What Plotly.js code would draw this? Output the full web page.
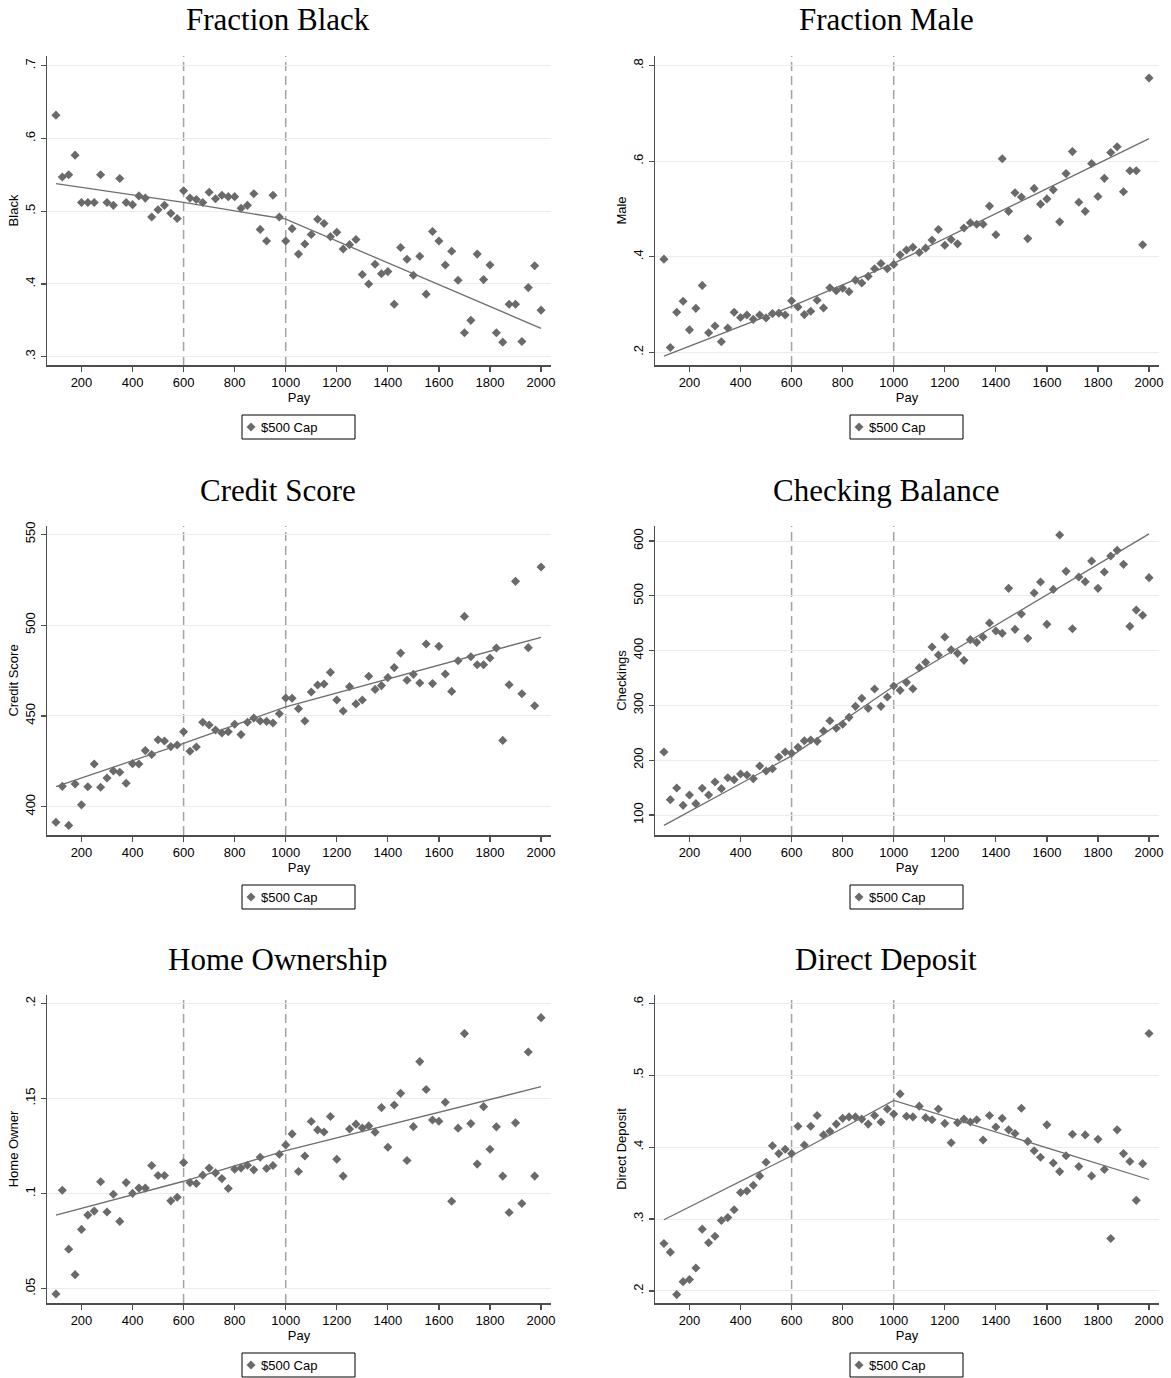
<!DOCTYPE html>
<html>
<head>
<meta charset="utf-8">
<script src="https://cdn.plot.ly/plotly-3.0.1.min.js"></script>
<style>
  html, body { margin: 0; padding: 0; background: #fff; width: 1171px; height: 1378px; overflow: hidden; }
  #chart { width: 1171px; height: 1378px; overflow: hidden; }
</style>
</head>
<body>
<div id="chart"></div>
<script>
// Pay bins (x positions shared by every panel)
const pay = [100,125,150,175,200,225,250,275,300,325,350,375,400,425,450,475,500,525,550,575,
  600,625,650,675,700,725,750,775,800,825,850,875,900,925,950,975,1000,
  1025,1050,1075,1100,1125,1150,1175,1200,1225,1250,1275,1300,1325,1350,1375,1400,1425,1450,1475,
  1500,1525,1550,1575,1600,1625,1650,1675,1700,1725,1750,1775,1800,1825,1850,1875,1900,1925,1950,1975,2000];

// Binned means per outcome
const black = [0.632,0.547,0.550,0.577,0.512,0.512,0.512,0.550,0.512,0.508,0.545,0.512,0.509,0.521,0.518,0.492,0.502,0.508,0.497,0.490,
  0.528,0.518,0.516,0.512,0.526,0.517,0.522,0.520,0.520,0.504,0.508,0.524,0.475,0.459,0.522,0.492,0.459,
  0.476,0.441,0.455,0.468,0.489,0.483,0.465,0.471,0.448,0.454,0.461,0.413,0.400,0.427,0.414,0.417,0.372,0.450,0.434,
  0.412,0.438,0.386,0.472,0.459,0.426,0.445,0.405,0.333,0.350,0.441,0.406,0.426,0.333,0.320,0.372,0.372,0.321,0.395,0.425,0.364];

const male = [0.395,0.210,0.284,0.307,0.247,0.292,0.340,0.241,0.255,0.222,0.251,0.284,0.273,0.278,0.269,0.278,0.272,0.281,0.282,0.278,
  0.308,0.295,0.279,0.286,0.309,0.293,0.335,0.329,0.334,0.327,0.351,0.345,0.359,0.375,0.386,0.375,0.384,
  0.404,0.414,0.420,0.409,0.418,0.435,0.457,0.424,0.436,0.427,0.460,0.471,0.468,0.468,0.506,0.446,0.605,0.495,0.534,
  0.525,0.438,0.543,0.510,0.521,0.540,0.473,0.574,0.620,0.514,0.495,0.595,0.526,0.564,0.618,0.630,0.536,0.580,0.580,0.425,0.774];

const credit = [391.4,411.2,389.7,412.5,401.0,411.0,423.5,410.7,415.8,419.7,419.0,412.9,423.7,423.5,430.9,428.7,436.9,436.2,433.1,434.0,
  441.3,430.5,432.9,446.5,445.0,442.2,440.6,441.3,445.4,439.7,446.5,448.8,447.2,447.0,446.1,451.2,459.9,
  459.7,454.0,447.2,463.2,467.0,467.6,474.0,458.8,452.7,466.1,456.6,458.8,471.8,464.6,466.7,471.1,476.6,484.6,469.6,
  472.9,468.1,489.6,467.8,488.3,473.1,463.5,480.4,504.8,482.6,478.2,478.2,481.9,487.4,436.5,467.2,524.1,462.2,487.6,455.6,532.0];

const checking = [215,128,149.3,117.6,136.5,120.7,148.7,136.5,160.2,148.1,168.1,164.5,174.8,173.0,166.3,189.4,180.3,184.5,205.8,215.0,
  212.5,223.5,235.6,236.9,234.4,253.3,272.1,258.2,265.5,278.2,298.3,312.9,294.6,329.9,298.3,315.3,335.4,
  327.5,342.1,330.5,368.9,378.6,406.6,392.0,424.8,401.7,395.0,382.2,420.0,415.1,424.8,450.4,435.8,431.5,513.6,438.8,
  466.8,422.4,505.1,525.2,447.9,511.7,611.0,544.6,440.0,534.3,525.8,563.5,513.6,543.4,572.6,583.0,557.4,444.3,474.1,464.4,533.1];

const homeOwner = [0.0472,0.1018,0.0708,0.0574,0.0812,0.0887,0.0908,0.1062,0.0903,0.0997,0.0854,0.1058,0.1001,0.1029,0.1029,0.1148,0.1095,0.1095,0.0962,0.0981,
  0.1163,0.1058,0.1053,0.1097,0.1134,0.1109,0.1079,0.1027,0.1128,0.1135,0.1149,0.1125,0.1191,0.1132,0.1148,0.1207,0.1256,
  0.1314,0.1116,0.1198,0.1379,0.1335,0.1324,0.1405,0.1181,0.1092,0.1340,0.1365,0.1345,0.1356,0.1323,0.1452,0.1244,0.1466,0.1527,0.1174,
  0.1352,0.1694,0.1547,0.1387,0.1380,0.1480,0.0960,0.1344,0.1841,0.1368,0.1155,0.1457,0.1233,0.1351,0.1092,0.0901,0.1372,0.0948,0.1744,0.1092,0.1925];

const deposit = [0.266,0.254,0.195,0.213,0.216,0.232,0.286,0.267,0.276,0.298,0.302,0.313,0.337,0.339,0.347,0.360,0.379,0.402,0.391,0.397,
  0.391,0.429,0.403,0.429,0.444,0.417,0.422,0.432,0.440,0.442,0.442,0.439,0.432,0.444,0.435,0.453,0.446,
  0.474,0.443,0.442,0.457,0.441,0.438,0.453,0.433,0.406,0.434,0.439,0.435,0.438,0.410,0.444,0.428,0.440,0.424,0.419,
  0.454,0.408,0.395,0.386,0.431,0.378,0.366,0.388,0.418,0.373,0.417,0.360,0.411,0.369,0.273,0.424,0.391,0.380,0.326,0.377,0.558];

// Piecewise-linear fitted lines (knots and fitted values)
const fitKnots = [100, 600, 1000, 2000];
const fitKnotsDeposit = [100, 600, 850, 1000, 2000];
const blackFit = [0.538, 0.512, 0.489, 0.339];
const maleFit = [0.192, 0.296, 0.386, 0.647];
const creditFit = [411.0, 434.9, 455.0, 493.3];
const checkingFit = [81, 208, 335, 613];
const homeFit = [0.0887, 0.1065, 0.1226, 0.1562];
const depositFit = [0.299, 0.388, 0.436, 0.465, 0.355];

// Cutoffs marked with dashed lines
const cutoffs = [600, 1000];

// Axis ticks and labels
const xTicks = [200,400,600,800,1000,1200,1400,1600,1800,2000];
const blackTicks = [0.3,0.4,0.5,0.6,0.7], blackLabels = ['.3','.4','.5','.6','.7'];
const maleTicks = [0.2,0.4,0.6,0.8], maleLabels = ['.2','.4','.6','.8'];
const creditTicks = [400,450,500,550], creditLabels = ['400','450','500','550'];
const checkingTicks = [100,200,300,400,500,600], checkingLabels = ['100','200','300','400','500','600'];
const homeTicks = [0.05,0.1,0.15,0.2], homeLabels = ['.05','.1','.15','.2'];
const depositTicks = [0.2,0.3,0.4,0.5,0.6], depositLabels = ['.2','.3','.4','.5','.6'];

const panelTitles = ['Fraction Black','Fraction Male','Credit Score','Checking Balance','Home Ownership','Direct Deposit'];
const yTitles = ['Black','Male','Credit Score','Checkings','Home Owner','Direct Deposit'];
const seriesName = '$500 Cap';

// ---- layout geometry (pixels) ----
const W = 1171, H = 1378;
const colPx = [[47, 551], [655, 1159]];
const rowPx = [[56, 365], [526, 835], [995, 1303]];
const yRanges = [[0.2886, 0.7133], [0.1735, 0.820], [384.4, 554.6], [63.5, 627.4], [0.0425, 0.2044], [0.1833, 0.6115]];
const xRange = [65, 2039];

const panels = [
  {y: black, fitX: fitKnots, fitY: blackFit, tv: blackTicks, tt: blackLabels},
  {y: male, fitX: fitKnots, fitY: maleFit, tv: maleTicks, tt: maleLabels},
  {y: credit, fitX: fitKnots, fitY: creditFit, tv: creditTicks, tt: creditLabels},
  {y: checking, fitX: fitKnots, fitY: checkingFit, tv: checkingTicks, tt: checkingLabels},
  {y: homeOwner, fitX: fitKnots, fitY: homeFit, tv: homeTicks, tt: homeLabels},
  {y: deposit, fitX: fitKnotsDeposit, fitY: depositFit, tv: depositTicks, tt: depositLabels}
];

const axisColor = '#4d4d4d';
const markColor = '#6a6a6a';
const gridColor = '#e6eeef';
const sans = 'Liberation Sans, Arial, sans-serif';
const serif = 'Liberation Serif, Times New Roman, serif';

const px2x = v => v / W;          // pixel column -> paper x
const px2y = v => 1 - v / H;      // pixel row -> paper y

const traces = [];
const layout = {
  width: W, height: H,
  margin: {l: 0, r: 0, t: 0, b: 0},
  paper_bgcolor: '#fff', plot_bgcolor: '#fff',
  showlegend: false,
  shapes: [], annotations: []
};

panels.forEach((p, i) => {
  const n = i + 1;
  const col = i % 2, row = Math.floor(i / 2);
  const xa = 'xaxis' + (n === 1 ? '' : n), ya = 'yaxis' + (n === 1 ? '' : n);
  const xr = 'x' + (n === 1 ? '' : n), yr = 'y' + (n === 1 ? '' : n);
  const [x0, x1] = colPx[col], [y0, y1] = rowPx[row];
  const cx = (x0 + x1) / 2;

  traces.push({
    type: 'scatter', mode: 'markers', x: pay, y: p.y, xaxis: xr, yaxis: yr,
    name: seriesName,
    marker: {symbol: 'diamond', size: 7, color: markColor, line: {width: 0}},
    cliponaxis: false
  });
  traces.push({
    type: 'scatter', mode: 'lines', x: p.fitX, y: p.fitY, xaxis: xr, yaxis: yr,
    line: {color: '#6e6e6e', width: 1.3}, hoverinfo: 'skip'
  });

  layout[xa] = {
    domain: [px2x(x0), px2x(x1)], range: xRange, anchor: yr,
    tickmode: 'array', tickvals: xTicks, ticktext: xTicks.map(String),
    ticks: 'outside', ticklen: 5, tickwidth: 1.2, tickcolor: axisColor,
    showline: true, linecolor: axisColor, linewidth: 1.5,
    showgrid: false, zeroline: false, automargin: false,
    tickfont: {family: sans, size: 13, color: '#000'},
    title: {text: 'Pay', font: {family: sans, size: 13, color: '#000'}, standoff: 2}
  };
  layout[ya] = {
    domain: [px2y(y1), px2y(y0)], range: yRanges[i], anchor: xr,
    tickmode: 'array', tickvals: p.tv, ticktext: p.tt, tickangle: -90,
    ticks: 'outside', ticklen: 5, tickwidth: 1.2, tickcolor: axisColor,
    showline: true, linecolor: axisColor, linewidth: 1.5,
    showgrid: true, gridcolor: gridColor, gridwidth: 1, zeroline: false, automargin: false,
    tickfont: {family: sans, size: 13, color: '#000'},
    title: {text: yTitles[i], font: {family: sans, size: 13, color: '#000'}, standoff: 1}
  };

  cutoffs.forEach(c => layout.shapes.push({
    type: 'line', xref: xr, yref: yr + ' domain', x0: c, x1: c, y0: 0, y1: 1,
    line: {color: '#a3a3a3', width: 1.5, dash: '9px,5px'}, layer: 'below'
  }));

  // panel title
  layout.annotations.push({
    text: panelTitles[i], xref: 'paper', yref: 'paper',
    x: px2x(cx - 21), y: px2y(y0 - 36), xanchor: 'center', yanchor: 'middle',
    showarrow: false, font: {family: serif, size: 31, color: '#000'}
  });

  // legend key box below the panel
  const lx0 = cx - 57, lx1 = cx + 56, ly0 = y1 + 50, ly1 = y1 + 74, lyc = (ly0 + ly1) / 2;
  layout.shapes.push({
    type: 'rect', xref: 'paper', yref: 'paper',
    x0: px2x(lx0), x1: px2x(lx1), y0: px2y(ly1), y1: px2y(ly0),
    line: {color: '#000', width: 1}, fillcolor: '#fff'
  });
  const kx = lx0 + 9, r = 4.5;
  layout.shapes.push({
    type: 'path', xref: 'paper', yref: 'paper',
    path: `M ${px2x(kx)},${px2y(lyc - r)} L ${px2x(kx + r)},${px2y(lyc)} L ${px2x(kx)},${px2y(lyc + r)} L ${px2x(kx - r)},${px2y(lyc)} Z`,
    line: {width: 0}, fillcolor: markColor
  });
  layout.annotations.push({
    text: seriesName, xref: 'paper', yref: 'paper',
    x: px2x(kx + 8), y: px2y(lyc), xanchor: 'left', yanchor: 'middle',
    showarrow: false, font: {family: sans, size: 13, color: '#000'}
  });
});

Plotly.newPlot('chart', traces, layout, {displayModeBar: false, staticPlot: true});
</script>
</body>
</html>
